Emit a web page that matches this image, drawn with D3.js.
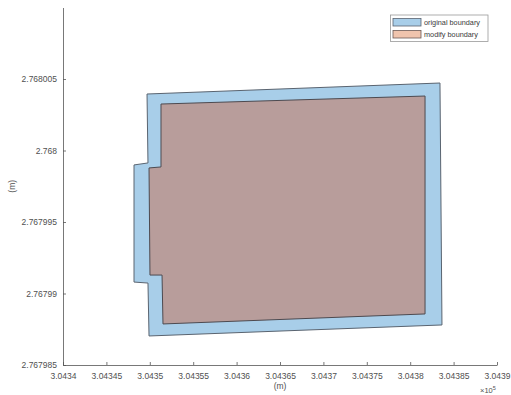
<!DOCTYPE html>
<html>
<head>
<meta charset="utf-8">
<script src="https://cdn.jsdelivr.net/npm/d3@7"></script>
<style>
  html, body { margin: 0; padding: 0; background: #fff; }
  svg { display: block; font-family: "Liberation Sans", Arial, sans-serif; }
</style>
</head>
<body>
<svg id="chart" width="511" height="395"></svg>
<script>
// Boundary vertices: easting in metres, northing in axis units
const originalX = [304349.68, 304383.43, 304383.66, 304349.91, 304349.79, 304348.18, 304348.18, 304349.79];
const originalY = [2.76800395, 2.76800472, 2.76798780, 2.76798703, 2.76799073, 2.76799080, 2.76799899, 2.76799913];
const modifyX = [304351.29, 304381.71, 304381.71, 304351.52, 304351.41, 304350.02, 304349.91, 304351.29];
const modifyY = [2.76800325, 2.76800381, 2.76798857, 2.76798787, 2.76799129, 2.76799129, 2.76799878, 2.76799885];

const xTicks = [304340, 304345, 304350, 304355, 304360, 304365, 304370, 304375, 304380, 304385, 304390];
const yTicks = [2.767985, 2.76799, 2.767995, 2.768, 2.768005];
const seriesNames = ["original boundary", "modify boundary"];

const svg = d3.select("#chart");
const axisColor = "#555";
const textColor = "#505050";

const x = d3.scaleLinear().domain([304340, 304390]).range([63, 497]);
const y = d3.scaleLinear().domain([2.767985, 2.76801]).range([365, 7.5]);

const toPoints = (xs, ys) => xs.map((v, i) => [x(v), y(ys[i])]);
const line = d3.line().curve(d3.curveLinearClosed);

// Filled boundaries
svg.append("path")
  .attr("d", line(toPoints(originalX, originalY)))
  .attr("fill", "#a8cee9")
  .attr("stroke", "#5a6470")
  .attr("stroke-width", 1);

svg.append("path")
  .attr("d", line(toPoints(modifyX, modifyY)))
  .attr("fill", "rgb(210,78,30)")
  .attr("fill-opacity", 0.38)
  .attr("stroke", "#4d4a50")
  .attr("stroke-width", 1);

// Axes
const fmtX = d => String(+(d / 1e5).toFixed(6));
const xAxis = d3.axisBottom(x).tickValues(xTicks).tickFormat(fmtX).tickSizeInner(-3).tickSizeOuter(0).tickPadding(8);
const yAxis = d3.axisLeft(y).tickValues(yTicks).tickFormat(d => String(d)).tickSizeInner(-3).tickSizeOuter(0).tickPadding(6);

const gx = svg.append("g").attr("transform", "translate(0,365)").call(xAxis);
const gy = svg.append("g").attr("transform", "translate(63,0)").call(yAxis);

[gx, gy].forEach(g => {
  g.select(".domain").attr("stroke", axisColor).attr("stroke-width", 0.8);
  g.selectAll(".tick line").attr("stroke", axisColor).attr("stroke-width", 0.8);
  g.selectAll(".tick text").attr("fill", textColor).style("font-size", "8.5px");
});

// Axis titles
svg.append("text")
  .attr("x", x(304365)).attr("y", 389)
  .attr("text-anchor", "middle")
  .attr("fill", textColor).style("font-size", "8.5px")
  .text("(m)");

svg.append("text")
  .attr("transform", `translate(15,${y(2.7679975)}) rotate(-90)`)
  .attr("text-anchor", "middle")
  .attr("fill", textColor).style("font-size", "8.5px")
  .text("(m)");

const expo = svg.append("text")
  .attr("x", 480).attr("y", 393)
  .attr("fill", textColor).style("font-size", "7.5px");
expo.append("tspan").text("\u00d710");
expo.append("tspan").attr("dy", -3).style("font-size", "5.5px").text("5");

// Legend
const legend = svg.append("g");
legend.append("rect")
  .attr("x", 390.5).attr("y", 15).attr("width", 97.5).attr("height", 26.5)
  .attr("fill", "#fff").attr("stroke", "#9a9a9a").attr("stroke-width", 0.8);

const swatches = [
  { fill: "#a8cee9", stroke: "#5a6470" },
  { fill: "#f0c4ad", stroke: "#6b5a55" }
];
seriesNames.forEach((name, i) => {
  const yy = 18.5 + i * 12;
  legend.append("rect")
    .attr("x", 393).attr("y", yy).attr("width", 28).attr("height", 7.5)
    .attr("fill", swatches[i].fill).attr("stroke", swatches[i].stroke).attr("stroke-width", 0.8);
  legend.append("text")
    .attr("x", 424).attr("y", yy + 6.3)
    .attr("fill", "#3a3a3a").style("font-size", "7.3px")
    .text(name);
});
</script>
</body>
</html>
